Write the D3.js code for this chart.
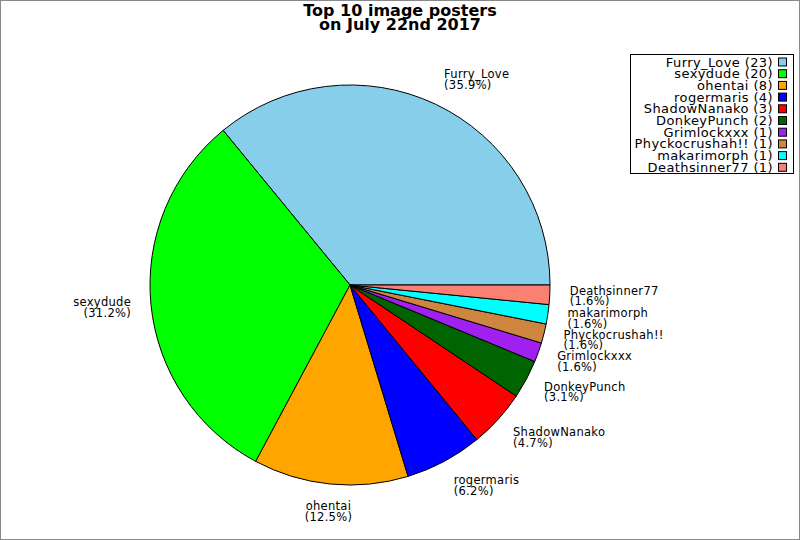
<!DOCTYPE html>
<html>
<head>
<meta charset="utf-8">
<script src="https://cdn.jsdelivr.net/npm/d3@7"></script>
<style>
    body { margin: 0; background: #fff; }
    svg { display: block; font-family: "DejaVu Sans", sans-serif; }
</style>
</head>
<body>
<div id="chart"></div>
<script>
// Chart data
const posters = ["Furry_Love", "sexydude", "ohentai", "rogermaris", "ShadowNanako",
    "DonkeyPunch", "Grimlockxxx", "Phyckocrushah!!", "makarimorph", "Deathsinner77"];
const postCounts = [23, 20, 8, 4, 3, 2, 1, 1, 1, 1];
const sliceColors = ["#87ceeb", "#00ff00", "#ffa500", "#0000ff", "#ff0000",
    "#006400", "#a020f0", "#cd853f", "#00ffff", "#fa8072"];
const titleLines = ["Top 10 image posters", "on July 22nd 2017"];

const width = 800;
const height = 540;
const cx = 350, cy = 285, radius = 200;
const labelRadius = 220;

// one decimal, ties go to the even digit (31.25 -> 31.2)
function pctText(v) {
    const x = v * 10;
    let r = Math.round(x);
    if (Math.abs(x - Math.floor(x) - 0.5) < 1e-9 && r % 2 !== 0) r -= 1;
    return (r / 10).toFixed(1) + "%";
}

const svg = d3.select("#chart")
    .append("svg")
    .attr("width", width)
    .attr("height", height);

// Frame
svg.append("rect")
    .attr("x", 0.5).attr("y", 0.5)
    .attr("width", width - 1).attr("height", height - 1)
    .attr("fill", "#fff")
    .attr("stroke", "#888")
    .attr("stroke-width", 1);

// Title
svg.append("text")
    .attr("x", 400)
    .attr("y", 16)
    .attr("text-anchor", "middle")
    .style("font-size", "16px")
    .style("font-weight", "bold")
    .selectAll("tspan")
    .data(titleLines)
    .enter()
    .append("tspan")
    .attr("x", 400)
    .attr("dy", (d, i) => i === 0 ? 0 : 13.5)
    .text(d => d);

const total = d3.sum(postCounts);
const data = posters.map((name, i) => ({ name, value: postCounts[i], color: sliceColors[i] }));

// counterclockwise starting at 3 o'clock
const pie = d3.pie()
    .sort(null)
    .value(d => d.value)
    .startAngle(Math.PI / 2)
    .endAngle(Math.PI / 2 - 2 * Math.PI);

const arc = d3.arc().innerRadius(0).outerRadius(radius);
const arcs = pie(data);

const pieGroup = svg.append("g")
    .attr("transform", `translate(${cx},${cy})`);

pieGroup.selectAll("path")
    .data(arcs)
    .enter()
    .append("path")
    .attr("d", arc)
    .attr("fill", d => d.data.color)
    .attr("stroke", "#000")
    .attr("stroke-width", 1);

// Slice labels
const lineH = 10.5;
arcs.forEach(a => {
    const mid = (a.startAngle + a.endAngle) / 2;
    const c = Math.sin(mid);   // horizontal direction
    const s = Math.cos(mid);   // vertical direction (up positive)
    const x = cx + labelRadius * c;
    const y = cy - labelRadius * s;
    const anchor = c > 0.2 ? "start" : (c < -0.2 ? "end" : "middle");
    const centerY = y - s * lineH * 0.7;

    const t = svg.append("text")
        .attr("text-anchor", anchor)
        .style("font-size", "11.5px")
        .style("letter-spacing", "0.3px")
        .attr("fill", "#000");
    [a.data.name, "(" + pctText(a.data.value / total * 100) + ")"].forEach((line, i) => {
        t.append("tspan")
            .attr("x", x)
            .attr("y", centerY - lineH / 2 + i * lineH + 4)
            .text(line);
    });
});

// Legend
const legendX = 630, legendY = 54, legendW = 163, legendH = 119;
const rowH = 11.7;
const legend = svg.append("g");

legend.append("rect")
    .attr("x", legendX + 0.5).attr("y", legendY + 0.5)
    .attr("width", legendW).attr("height", legendH)
    .attr("fill", "#fff")
    .attr("stroke", "#000")
    .attr("stroke-width", 1);

const rows = legend.selectAll("g.row")
    .data(data)
    .enter()
    .append("g")
    .attr("class", "row")
    .attr("transform", (d, i) => `translate(0, ${legendY + 8 + i * rowH})`);

rows.append("text")
    .attr("x", 773)
    .attr("y", 4.5)
    .attr("text-anchor", "end")
    .style("font-size", "13px")
    .style("letter-spacing", "0.4px")
    .text(d => `${d.name} (${d.value})`);

rows.append("rect")
    .attr("x", 778.5)
    .attr("y", -4)
    .attr("width", 8)
    .attr("height", 8)
    .attr("fill", d => d.color)
    .attr("stroke", "#000")
    .attr("stroke-width", 1);
</script>
</body>
</html>
